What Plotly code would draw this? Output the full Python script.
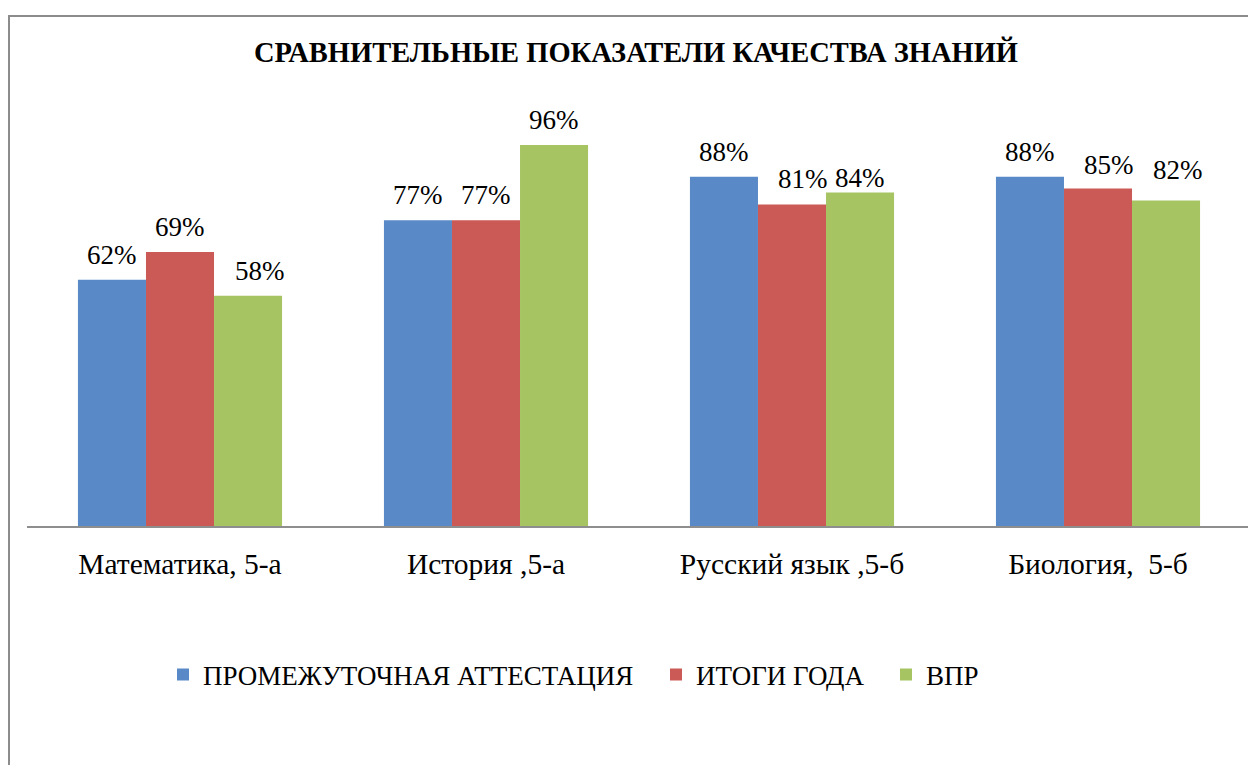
import plotly.graph_objects as go

categories = ["Математика, 5-а", "История ,5-а", "Русский язык ,5-б", "Биология,  5-б"]
series_names = ["ПРОМЕЖУТОЧНАЯ АТТЕСТАЦИЯ", "ИТОГИ ГОДА", "ВПР"]
attest = [0.62, 0.77, 0.88, 0.88]
itogi = [0.69, 0.77, 0.81, 0.85]
vpr = [0.58, 0.96, 0.84, 0.82]

colors = ["#598AC7", "#CB5A57", "#A6C462"]
FONT = "Liberation Serif"

# page layout (px); the page body adds an 8px margin around the figure
W, H = 1256, 765
ML, MR, MT, MB = 19, 13, 121, 247
PLOT_W = W - ML - MR
BARGAP = 0.333
bar_w = PLOT_W / len(categories) * (1 - BARGAP) / len(series_names)

# a few labels were moved by hand in the original (series, category) -> (dx, dy)
label_nudge = {(2, 0): (12, 0), (1, 2): (11, 0), (2, 2): (0, -10),
               (1, 3): (11, -1), (2, 3): (12, 5)}

fig = go.Figure()
legends = ["legend", "legend2", "legend3"]
for i, (name, vals, col) in enumerate(zip(series_names, [attest, itogi, vpr], colors)):
    fig.add_trace(go.Bar(
        x=categories, y=vals, name=name,
        marker=dict(color=col, line=dict(width=0)),
        legend=legends[i],
    ))
    for j, v in enumerate(vals):
        dx, dy = label_nudge.get((i, j), (0, 0))
        fig.add_annotation(
            x=categories[j], y=v, xref="x", yref="y",
            text=f"{round(v * 100)}%", showarrow=False,
            xshift=(i - 1) * bar_w + dx, yshift=25 + dy,
            xanchor="center", yanchor="middle",
            font=dict(family=FONT, size=27, color="black"),
        )

leg_common = dict(orientation="h", xanchor="left", y=-0.375, yanchor="middle",
                  font=dict(family=FONT, size=27, color="black"),
                  itemwidth=30, bgcolor="rgba(0,0,0,0)")
fig.update_layout(
    width=W, height=H,
    margin=dict(l=ML, r=MR, t=MT, b=MB),
    paper_bgcolor="white", plot_bgcolor="white",
    barmode="group", bargap=BARGAP, bargroupgap=0,
    font=dict(family=FONT, color="black"),
    title=dict(text="<b>СРАВНИТЕЛЬНЫЕ ПОКАЗАТЕЛИ КАЧЕСТВА ЗНАНИЙ</b>",
               x=0.5, xanchor="center", y=0.9425, yanchor="middle",
               font=dict(family=FONT, size=28.5, color="black")),
    legend=dict(x=(183 - 8 - ML - 20) / PLOT_W, **leg_common),
    legend2=dict(x=(678 - 8 - ML - 22) / PLOT_W, **leg_common),
    legend3=dict(x=(908 - 8 - ML - 22) / PLOT_W, **leg_common),
    showlegend=True,
)
fig.update_xaxes(showline=True, linecolor="#8E8E8E", linewidth=2,
                 showgrid=False, ticks="", ticklabelstandoff=11,
                 tickfont=dict(family=FONT, size=29.5, color="black"))
fig.update_yaxes(range=[0, 1], visible=False, showgrid=False, zeroline=False)

# chart frame
fig.add_shape(type="rect", xref="paper", yref="paper",
              x0=-0.0147, x1=1.05, y0=-0.8, y1=1.2846,
              line=dict(color="#8C8C8C", width=2), layer="below")

fig.write_html("out.html")
